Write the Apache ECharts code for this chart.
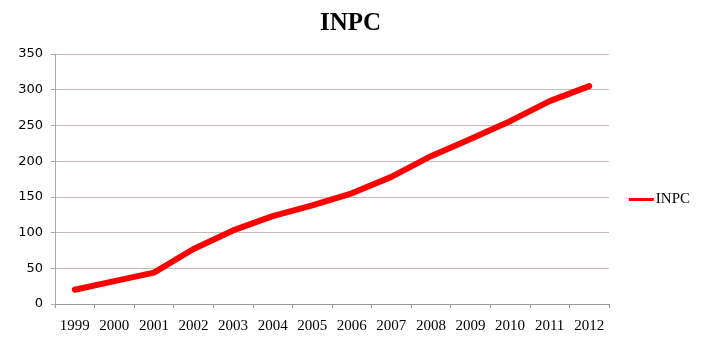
<!DOCTYPE html>
<html>
<head>
<meta charset="utf-8">
<script src="https://cdn.jsdelivr.net/npm/echarts@6/dist/echarts.min.js"></script>
<style>
  html, body { margin: 0; padding: 0; background: #fff; }
  #chart { width: 701px; height: 359px; }
</style>
</head>
<body>
<div id="chart"></div>
<script>
const years = ['1999', '2000', '2001', '2002', '2003', '2004', '2005', '2006', '2007', '2008', '2009', '2010', '2011', '2012']
const inpc = [20, 32, 44, 77, 103, 123, 138, 155, 178, 207, 231, 256, 284, 305]
const yTicks = { min: 0, max: 350, step: 50 }

const chart = echarts.init(document.getElementById('chart'))
const option = {
  animation: false,
  title: {
    text: 'INPC',
    left: 'center',
    top: 6,
    textStyle: { fontFamily: 'Liberation Serif', fontSize: 25, fontWeight: 'bold', color: '#000' },
  },
  legend: {
    data: ['INPC'],
    right: 6,
    top: 187,
    orient: 'vertical',
    icon: 'rect',
    itemWidth: 25,
    itemHeight: 3,
    itemGap: 6,
    textStyle: { fontFamily: 'Liberation Serif', fontSize: 15, color: '#000', padding: [0, 0, 0, -3] },
  },
  grid: { left: 55, right: 92, top: 54, bottom: 55 },
  xAxis: {
    type: 'category',
    data: years,
    boundaryGap: true,
    axisLine: { lineStyle: { color: '#999' } },
    axisTick: { show: true, length: 4, lineStyle: { color: '#999' } },
    axisLabel: { fontFamily: 'Liberation Serif', fontSize: 15, color: '#000', margin: 15 },
  },
  yAxis: {
    type: 'value',
    min: yTicks.min,
    max: yTicks.max,
    interval: yTicks.step,
    axisLine: { show: true, lineStyle: { color: '#aaa' } },
    axisTick: { show: true, length: 4, lineStyle: { color: '#aaa' } },
    axisLabel: { fontFamily: 'DejaVu Sans', fontSize: 13, color: '#000', margin: 12 },
    splitLine: { lineStyle: { color: '#c9b9b9', width: 1 } },
  },
  series: [
    {
      name: 'INPC',
      type: 'line',
      data: inpc,
      symbol: 'none',
      lineStyle: { color: '#ff0000', width: 6, cap: 'round', join: 'round' },
      itemStyle: { color: '#ff0000' },
    },
  ],
}
chart.setOption(option)
</script>
</body>
</html>
